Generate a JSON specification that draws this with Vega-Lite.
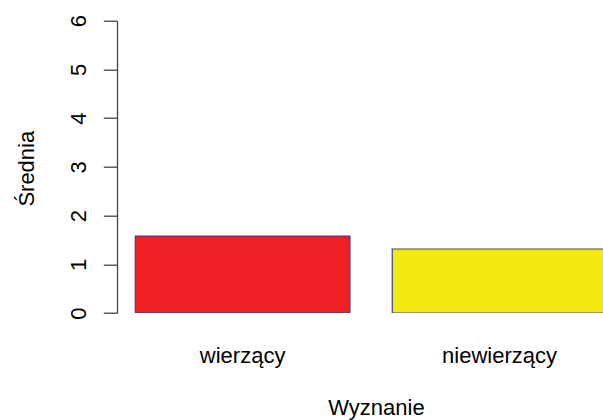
{
  "$schema": "https://vega.github.io/schema/vega-lite/v6.json",
  "autosize": "none",
  "width": 486,
  "height": 292.3,
  "padding": {"left": 117, "top": 20.7, "right": 0, "bottom": 107},
  "background": "white",
  "config": {
    "view": {"stroke": null},
    "font": "Liberation Sans",
    "axis": {
      "labelFont": "Liberation Sans",
      "titleFont": "Liberation Sans",
      "labelFontSize": 22,
      "titleFontSize": 22,
      "labelColor": "#000000",
      "titleColor": "#000000",
      "titleFontWeight": "normal",
      "grid": false
    }
  },
  "data": {
    "values": [
      {"Wyznanie": "wierzący", "Srednia": 1.58},
      {"Wyznanie": "niewierzący", "Srednia": 1.314}
    ]
  },
  "mark": {"type": "bar", "clip": true, "stroke": "#3c3c96", "strokeWidth": 1.2},
  "encoding": {
    "x": {
      "field": "Wyznanie",
      "type": "nominal",
      "sort": null,
      "scale": {"domain": ["wierzący", "niewierzący"], "range": [18.3, 489.9], "paddingInner": 0.1646, "paddingOuter": 0},
      "axis": {
        "title": "Wyznanie",
        "labelAngle": 0,
        "labelAlign": "center",
        "labelBaseline": "alphabetic",
        "labelPadding": 49.5,
        "ticks": false,
        "tickSize": 0,
        "domain": false,
        "titleX": 259,
        "titleY": 101,
        "titleAlign": "center",
        "titleBaseline": "alphabetic",
        "titleAnchor": null
      }
    },
    "y": {
      "field": "Srednia",
      "type": "quantitative",
      "scale": {"domain": [0, 6], "nice": false, "zero": true},
      "axis": {
        "title": "Średnia",
        "values": [0, 1, 2, 3, 4, 5, 6],
        "format": "d",
        "labelAngle": -90,
        "labelAlign": "center",
        "labelBaseline": "alphabetic",
        "labelPadding": 17.7,
        "tickSize": 13.7,
        "tickColor": "#444444",
        "tickWidth": 1.3,
        "domainColor": "#444444",
        "domainWidth": 1.3,
        "titleAngle": -90,
        "titleAlign": "center",
        "titleBaseline": "alphabetic",
        "titleX": -84,
        "titleY": 147.5,
        "titleAnchor": null
      }
    },
    "color": {
      "field": "Wyznanie",
      "type": "nominal",
      "scale": {"domain": ["wierzący", "niewierzący"], "range": ["#ee2024", "#f2ea0e"]},
      "legend": null
    }
  }
}
